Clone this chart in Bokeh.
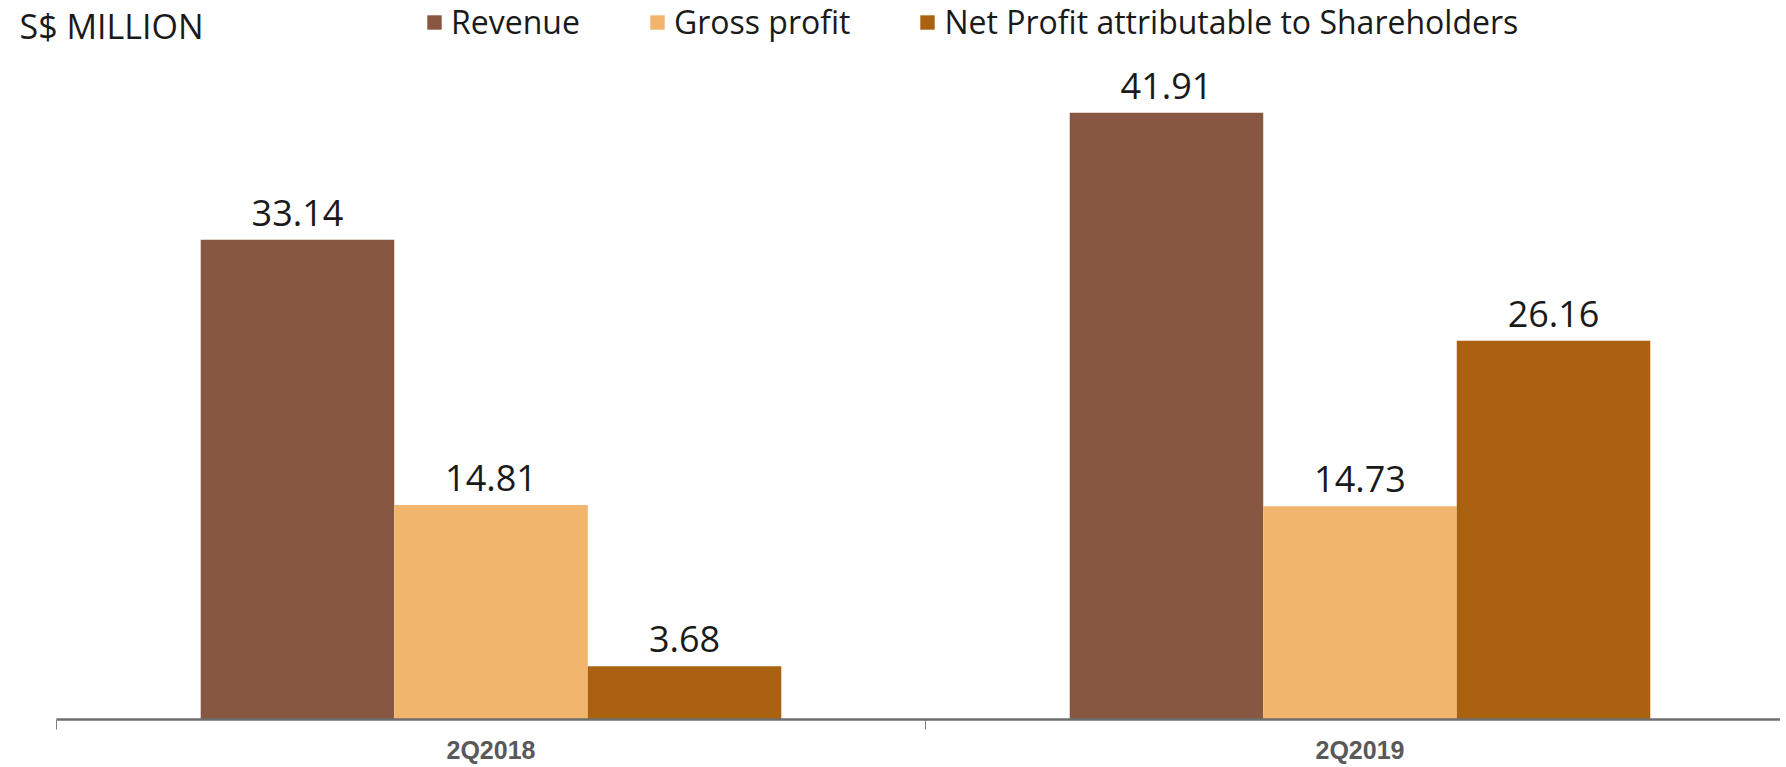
from bokeh.plotting import figure
from bokeh.models import Range1d, FixedTicker, Legend, LegendItem, Label, ColumnDataSource
from bokeh.core.properties import value
from bokeh.embed import file_html
from bokeh.resources import INLINE

periods = ["2Q2018", "2Q2019"]
series = ["Revenue", "Gross profit", "Net Profit attributable to Shareholders"]
revenue = [33.14, 41.91]
gross_profit = [14.81, 14.73]
net_profit = [3.68, 26.16]
colors = ["#875741", "#F2B56E", "#AA6210"]
unit_label = "S$ MILLION"

W, H = 1780, 767
X0, XS = 56, 869.0     # pixel of x=0, pixels per category
Y0, YS = 719, 14.48    # pixel of y=0, pixels per unit

p = figure(width=W, height=H, output_backend="svg", toolbar_location=None,
           x_range=Range1d(-X0 / XS, (W - X0) / XS),
           y_range=Range1d(-(H - Y0) / YS, Y0 / YS),
           min_border_left=0, min_border_right=0, min_border_top=0, min_border_bottom=0)
p.outline_line_color = None
p.grid.visible = False
p.yaxis.visible = False
p.background_fill_color = "white"
p.border_fill_color = "white"

bar_w = 0.2227
offsets = [-bar_w, 0, bar_w]
renderers = []
for k, (name, vals, col) in enumerate(zip(series, [revenue, gross_profit, net_profit], colors)):
    xs = [i + 0.5 + offsets[k] for i in range(len(periods))]
    src = ColumnDataSource(dict(x=xs, top=vals, lab=[f"{v:.2f}" for v in vals]))
    r = p.vbar(x="x", top="top", bottom=0, width=bar_w, source=src,
               fill_color=col, line_color=None)
    p.text(x="x", y="top", text="lab", source=src, text_align="center",
           text_baseline="bottom", y_offset=-14, text_font=value("Open Sans"),
           text_font_size="36px", text_color="#1a1a1a")
    renderers.append(r)

ax = p.xaxis[0]
ax.fixed_location = 0
ax.bounds = (0, len(periods))
ax.ticker = FixedTicker(ticks=[i + 0.5 for i in range(len(periods))],
                        minor_ticks=list(range(len(periods) + 1)))
ax.major_label_overrides = {i + 0.5: per for i, per in enumerate(periods)}
ax.major_tick_out = 0
ax.major_tick_in = 0
ax.minor_tick_out = 10
ax.minor_tick_in = 0
ax.minor_tick_line_color = "#7f7f7f"
ax.minor_tick_line_width = 1
ax.axis_line_color = "#6e6e6e"
ax.axis_line_width = 2.5
ax.major_label_standoff = 6
ax.major_label_text_font = "Liberation Sans"
ax.major_label_text_font_style = "bold"
ax.major_label_text_font_size = "25px"
ax.major_label_text_color = "#595959"

legend = Legend(items=[LegendItem(label=s, renderers=[r]) for s, r in zip(series, renderers)],
                orientation="horizontal", location=(425, 724),
                glyph_width=18, glyph_height=18, label_standoff=8, spacing=68,
                padding=0, margin=0, border_line_alpha=0, background_fill_alpha=0,
                label_text_font="Open Sans", label_text_font_size="32px",
                label_text_color="#1a1a1a")
p.add_layout(legend, "center")

p.add_layout(Label(x=19, y=742, x_units="screen", y_units="screen", text=unit_label,
                   text_baseline="middle", text_font="Open Sans", text_font_size="34px",
                   text_color="#1a1a1a"))

open("out.html", "w").write(file_html(p, INLINE))
